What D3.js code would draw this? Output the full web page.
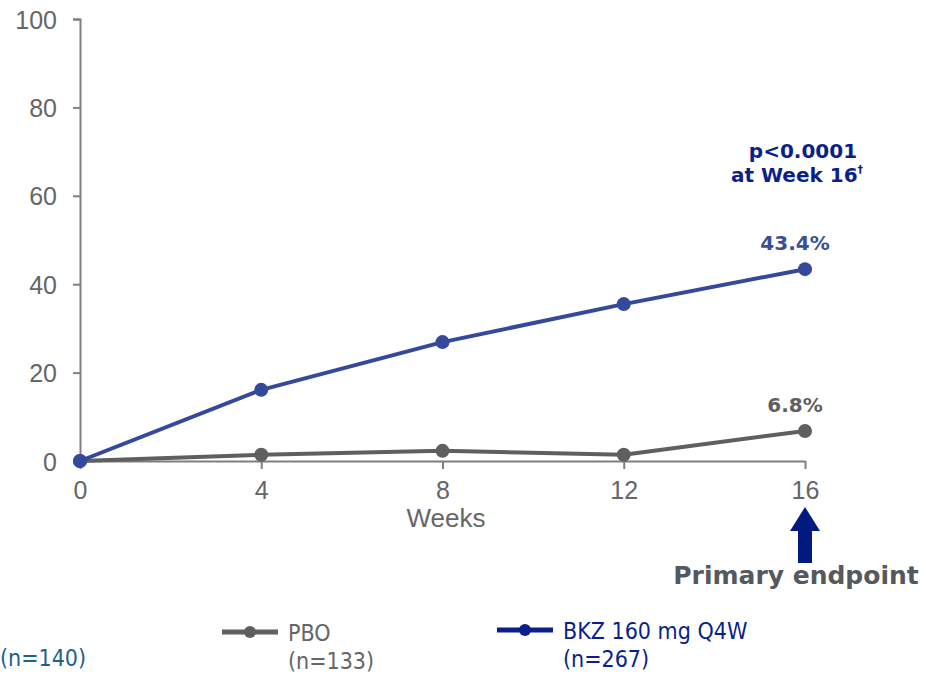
<!DOCTYPE html>
<html>
<head>
<meta charset="utf-8">
<script src="https://cdn.jsdelivr.net/npm/d3@7"></script>
<style>
  html, body { margin: 0; padding: 0; background: #fff; }
  svg { display: block; }
</style>
</head>
<body>
<svg id="chart" width="926" height="674"></svg>
<script>
// Study weeks and response rates (%) per arm
const weeks = [0, 4, 8, 12, 16];
const pboValues = [0, 1.4, 2.3, 1.4, 6.8];
const bkzValues = [0, 16.1, 26.9, 35.5, 43.4];
const yTicks = [0, 20, 40, 60, 80, 100];
const seriesNames = ["PBO", "BKZ 160 mg Q4W"];
const seriesN = ["(n=133)", "(n=267)"];

const svg = d3.select("#chart");
const grey = "#5f5f5f";
const blue = "#34499b";
const navy = "#0a1f8c";
const axisFont = "'Liberation Sans', Arial, sans-serif";

const x = d3.scaleLinear().domain([0, 16]).range([80, 805]);
const y = d3.scaleLinear().domain([0, 100]).range([461, 19]);

// Y axis
const yAxis = svg.append("g").attr("transform", "translate(80,0)")
  .call(d3.axisLeft(y).tickValues(yTicks).tickSize(7).tickPadding(16));
yAxis.attr("font-family", axisFont).attr("font-size", 25);
yAxis.select(".domain").attr("stroke", "#7f7f7f").attr("stroke-width", 2);
yAxis.selectAll(".tick line").attr("stroke", "#7f7f7f").attr("stroke-width", 2);
yAxis.selectAll(".tick text").attr("fill", "#666").attr("dy", "0.36em");

// X axis
const xAxis = svg.append("g").attr("transform", "translate(0,461)")
  .call(d3.axisBottom(x).tickValues(weeks).tickSizeOuter(0).tickSizeInner(8).tickPadding(14));
xAxis.attr("font-family", axisFont).attr("font-size", 25);
xAxis.select(".domain").attr("stroke", "#7f7f7f").attr("stroke-width", 2);
xAxis.selectAll(".tick line").attr("stroke", "#7f7f7f").attr("stroke-width", 2);
xAxis.selectAll(".tick text").attr("fill", "#666").attr("dy", "0.62em");

svg.append("text").attr("x", 446).attr("y", 527).attr("text-anchor", "middle")
  .attr("fill", "#666").attr("font-family", axisFont)
  .attr("font-size", 26).text("Weeks");

// Lines and markers
const line = d3.line().x((d, i) => x(weeks[i])).y(d => y(d));
function drawSeries(vals, color) {
  svg.append("path").datum(vals).attr("d", line)
    .attr("fill", "none").attr("stroke", color).attr("stroke-width", 4)
    .attr("stroke-linejoin", "round");
  svg.append("g").selectAll("circle").data(vals).join("circle")
    .attr("cx", (d, i) => x(weeks[i])).attr("cy", d => y(d)).attr("r", 7)
    .attr("fill", color);
}
drawSeries(pboValues, grey);
drawSeries(bkzValues, blue);

// End-point value labels
const boldFont = "Verdana, 'DejaVu Sans', sans-serif";
svg.append("text").attr("x", x(16) - 10).attr("y", y(bkzValues[4]) - 19)
  .attr("text-anchor", "middle").attr("font-family", boldFont).attr("font-weight", "bold")
  .attr("font-size", 20).attr("fill", "#3b4f96").text(bkzValues[4].toFixed(1) + "%");
svg.append("text").attr("x", x(16) - 10).attr("y", y(pboValues[4]) - 19)
  .attr("text-anchor", "middle").attr("font-family", boldFont).attr("font-weight", "bold")
  .attr("font-size", 20).attr("fill", grey).text(pboValues[4].toFixed(1) + "%");

// p-value annotation
svg.append("text").attr("x", 803).attr("y", 158).attr("text-anchor", "middle")
  .attr("font-family", boldFont).attr("font-weight", "bold").attr("font-size", 20)
  .attr("fill", navy).text("p<0.0001");
const wk = svg.append("text").attr("x", 797).attr("y", 182).attr("text-anchor", "middle")
  .attr("font-family", boldFont).attr("font-weight", "bold").attr("font-size", 20)
  .attr("fill", navy);
wk.append("tspan").text("at Week 16");
wk.append("tspan").attr("font-size", 11).attr("dy", -9).text("†");

// Primary endpoint arrow
const ax = x(16);
svg.append("path")
  .attr("d", `M${ax},507 L${ax + 15},531 L${ax + 7},531 L${ax + 7},563 L${ax - 7},563 L${ax - 7},531 L${ax - 15},531 Z`)
  .attr("fill", "#001a80");
svg.append("text").attr("x", 796).attr("y", 584).attr("text-anchor", "middle")
  .attr("font-family", boldFont).attr("font-weight", "bold").attr("font-size", 25)
  .attr("fill", "#55595e").text("Primary endpoint");

// Legend
const legFont = "'DejaVu Sans Condensed', 'Liberation Sans Narrow', sans-serif";
const legend = [
  { name: seriesNames[0], n: seriesN[0], color: grey, textColor: "#666", x0: 222, ly: 632 },
  { name: seriesNames[1], n: seriesN[1], color: "#0a1f8c", textColor: "#0a1f8c", x0: 497, ly: 630 }
];
legend.forEach(l => {
  svg.append("line").attr("x1", l.x0).attr("x2", l.x0 + 56).attr("y1", l.ly).attr("y2", l.ly)
    .attr("stroke", l.color).attr("stroke-width", 5);
  svg.append("circle").attr("cx", l.x0 + 28).attr("cy", l.ly).attr("r", 6).attr("fill", l.color);
  svg.append("text").attr("x", l.x0 + 66).attr("y", l.ly + 9)
    .attr("font-family", legFont).attr("font-size", 23).attr("fill", l.textColor).text(l.name);
  svg.append("text").attr("x", l.x0 + 66).attr("y", l.ly + 37)
    .attr("font-family", legFont).attr("font-size", 23).attr("fill", l.textColor).text(l.n);
});
svg.append("text").attr("x", 0).attr("y", 666)
  .attr("font-family", legFont).attr("font-size", 23).attr("fill", "#1f5f8b").text("(n=140)");
</script>
</body>
</html>
